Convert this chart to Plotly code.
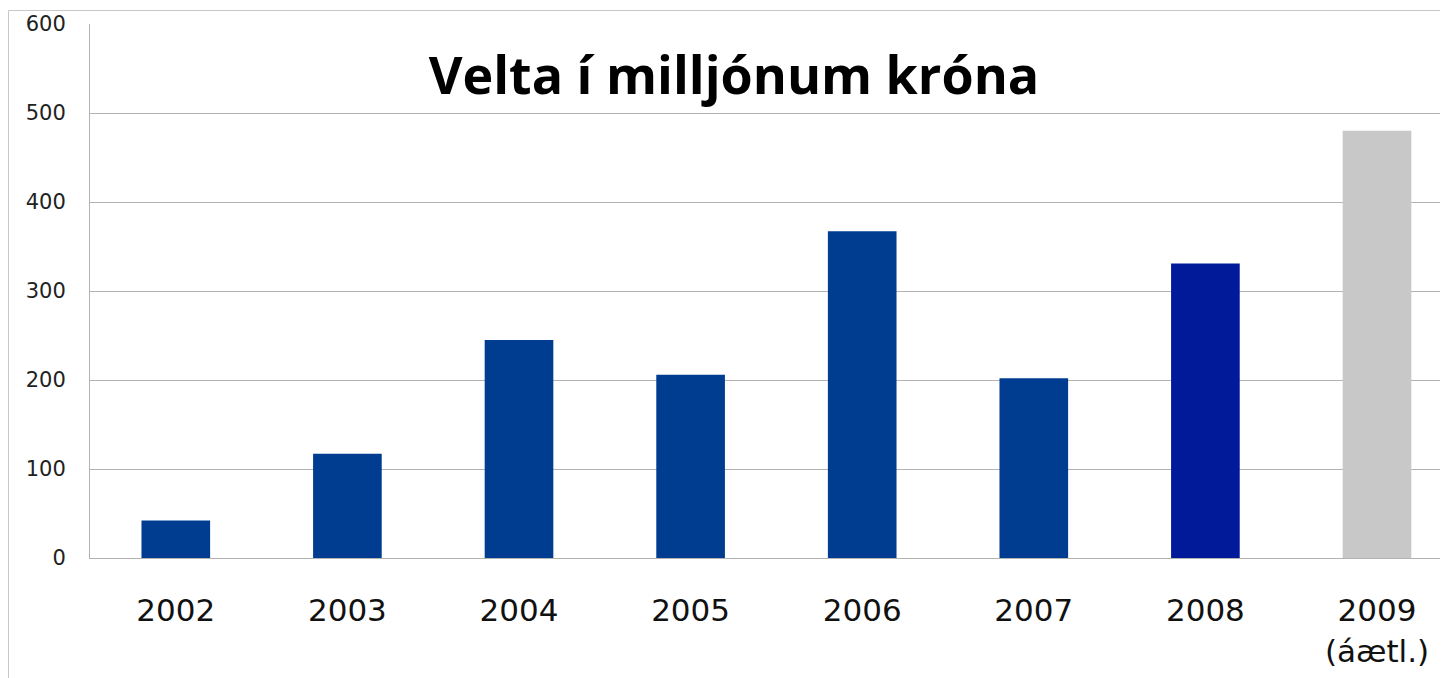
import plotly.graph_objects as go

years = ["2002", "2003", "2004", "2005", "2006", "2007", "2008", "2009<br>(áætl.)"]
values = [42, 117, 245, 206, 367, 202, 331, 480]
bar_colors = ["#003d91", "#003d91", "#003d91", "#003d91", "#003d91", "#003d91", "#001a9a", "#c8c8c8"]
y_ticks = [0, 100, 200, 300, 400, 500, 600]
title_text = "Velta í milljónum króna"

# page body has an 8px margin, compensate
OFF = 8
W, H = 1448, 678
L, R, T, B = 90 - OFF, 0, 24 - OFF, 120 + OFF

fig = go.Figure(go.Bar(
    x=list(range(len(years))),
    y=values,
    width=0.4,
    marker=dict(color=bar_colors, line=dict(width=0)),
    hoverinfo="skip",
))

pw = W - L - R
ph = H - T - B
cat_px = 171.6

fig.update_layout(
    width=W, height=H,
    margin=dict(l=L, r=R, t=T, b=B, pad=0),
    paper_bgcolor="white",
    plot_bgcolor="white",
    showlegend=False,
    title=dict(
        text=title_text,
        x=(734 - OFF) / W, xanchor="center", xref="container",
        y=1 - (76 - OFF) / H, yanchor="middle", yref="container",
        font=dict(family="Open Sans", size=52, color="black", weight="bold"),
    ),
    xaxis=dict(
        tickmode="array",
        tickvals=list(range(len(years))),
        ticktext=years,
        range=[-0.5, -0.5 + pw / cat_px],
        showgrid=False,
        showline=True, linecolor="#b3b3b3", linewidth=1,
        ticks="outside", ticklen=25, tickcolor="rgba(0,0,0,0)",
        tickfont=dict(family="DejaVu Sans", size=31, color="#111111"),
        zeroline=False,
        fixedrange=True,
    ),
    yaxis=dict(
        range=[0, 600],
        tickmode="array",
        tickvals=y_ticks,
        showgrid=True, gridcolor="#b3b3b3", gridwidth=1,
        showline=True, linecolor="#b3b3b3", linewidth=1,
        ticks="outside", ticklen=19, tickcolor="rgba(0,0,0,0)",
        tickfont=dict(family="DejaVu Sans", size=21, color="#222222"),
        zeroline=False,
        fixedrange=True,
    ),
)

# outer frame (top and left edge lines of the chart object)
fx = (0.5 - L) / pw
fy_top = (H - B - 2.5) / ph
fy_bot = (H - B - H - 5) / ph
fig.add_shape(type="line", xref="paper", yref="paper", x0=fx, x1=1.05, y0=fy_top, y1=fy_top,
              line=dict(color="#c8c8c8", width=1), layer="below")
fig.add_shape(type="line", xref="paper", yref="paper", x0=fx, x1=fx, y0=fy_top, y1=fy_bot,
              line=dict(color="#c8c8c8", width=1), layer="below")

fig.write_html("out.html", config=dict(displayModeBar=False))
